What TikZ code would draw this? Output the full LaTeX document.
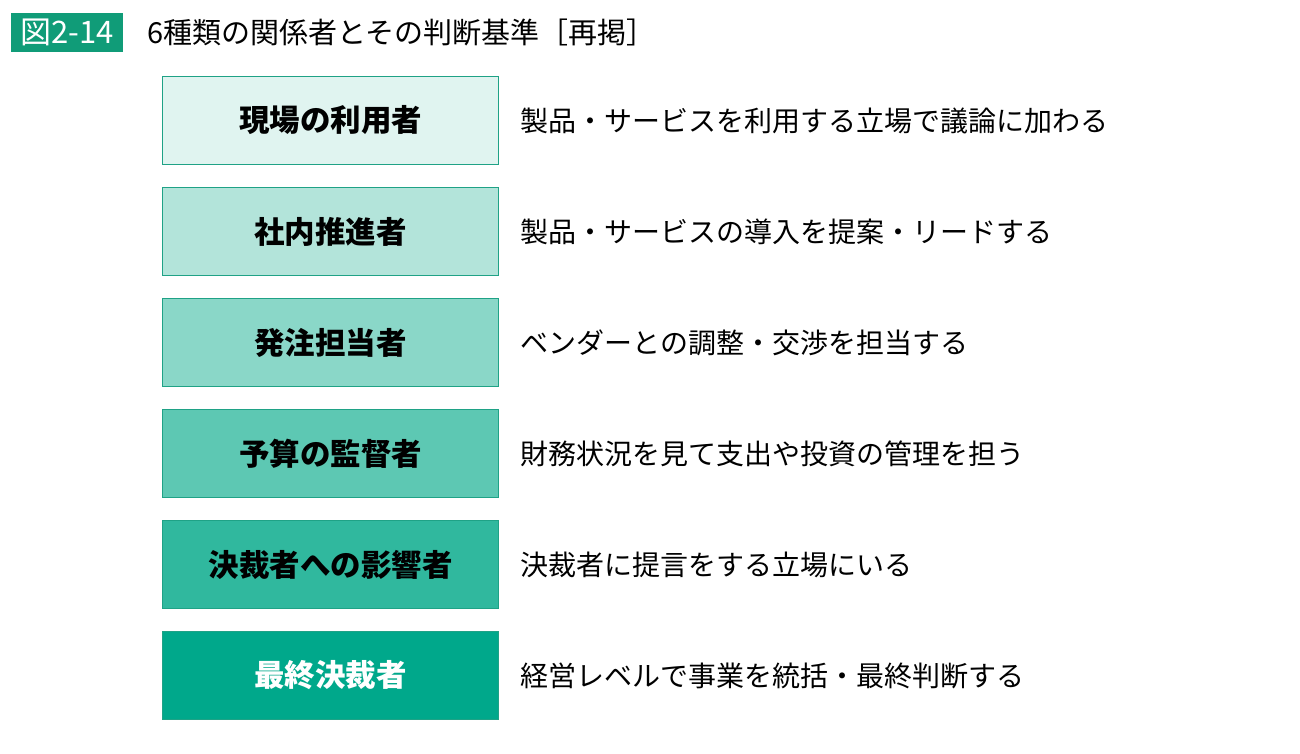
\documentclass[tikz,border=0pt]{standalone}
\usepackage{fontspec}
\setmainfont{Noto Sans CJK JP}
\usepackage{xcolor}
\usepackage{tikz}
\usetikzlibrary{positioning}

\definecolor{teal0}{HTML}{E0F4F0}
\definecolor{teal1}{HTML}{B3E4DA}
\definecolor{teal2}{HTML}{8AD7C8}
\definecolor{teal3}{HTML}{5DC8B3}
\definecolor{teal4}{HTML}{30B89E}
\definecolor{teal5}{HTML}{00A88B}
\definecolor{tealline}{HTML}{1FA286}
\definecolor{headgreen}{HTML}{109C78}

\tikzset{
  role/.style={draw=tealline, line width=1.5pt, minimum width=336pt, minimum height=88pt,
    inner sep=0pt, font=\fontsize{30.5}{32}\selectfont\bfseries, text centered},
  desc/.style={anchor=west, inner sep=0pt, font=\fontsize{28}{30}\selectfont}
}

\begin{document}
\begin{tikzpicture}[x=1pt, y=-1pt, node distance=21.5pt]
\useasboundingbox (0,0) rectangle (1300,754);

% header %
\node[fill=headgreen, text=white, minimum width=112pt, minimum height=39pt, inner sep=0pt,
  font=\fontsize{31}{32}\selectfont] (fig) at (67,32.5) {図2-14};
\node[anchor=west, inner sep=0pt, font=\fontsize{29}{30}\selectfont] (title) at (147,33)
  {6種類の関係者とその判断基準［再掲］};

% nodes %
\node[role, fill=teal0] (r1) at (330.5,120.5) {現場の利用者};
\node[role, fill=teal1, below = of r1] (r2) {社内推進者};
\node[role, fill=teal2, below = of r2] (r3) {発注担当者};
\node[role, fill=teal3, below = of r3] (r4) {予算の監督者};
\node[role, fill=teal4, below = of r4] (r5) {決裁者への影響者};
\node[role, fill=teal5, below = of r5, text=white] (r6) {最終決裁者};

% descriptions %
\node[desc, right = of r1] (d1) {製品・サービスを利用する立場で議論に加わる};
\node[desc, right = of r2] (d2) {製品・サービスの導入を提案・リードする};
\node[desc, right = of r3] (d3) {ベンダーとの調整・交渉を担当する};
\node[desc, right = of r4] (d4) {財務状況を見て支出や投資の管理を担う};
\node[desc, right = of r5] (d5) {決裁者に提言をする立場にいる};
\node[desc, right = of r6] (d6) {経営レベルで事業を統括・最終判断する};

\end{tikzpicture}
\end{document}
